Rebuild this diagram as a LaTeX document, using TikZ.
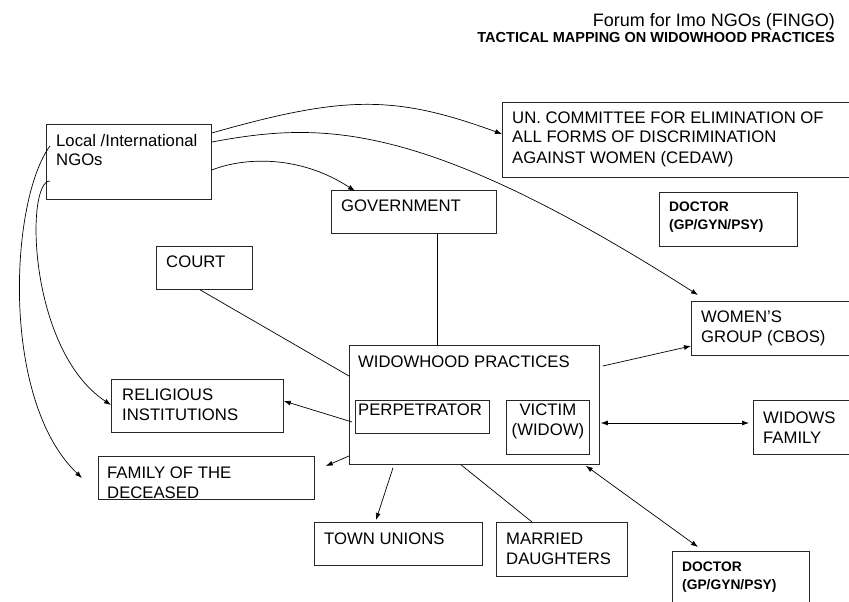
\documentclass[tikz,border=0pt]{standalone}
\usepackage{fontspec}
\setmainfont{Liberation Sans}
\usetikzlibrary{calc,arrows.meta}
\begin{document}
\begin{tikzpicture}[x=1pt,y=-1pt,
  box/.style={draw=black!85,line width=0.8pt,anchor=north west,inner sep=0pt,rectangle},
  txt/.style={anchor=base west,inner sep=0pt,font=\fontsize{16.7}{20}\selectfont},
  btxt/.style={anchor=base west,inner sep=0pt,font=\fontsize{13.8}{18}\selectfont\bfseries},
  link/.style={line width=0.7pt},
  arr/.style={link,-{Latex[length=7pt,width=5pt]}},
  darr/.style={link,{Latex[length=7pt,width=5pt]}-{Latex[length=7pt,width=5pt]}}]
\useasboundingbox (0,0) rectangle (849,602);
\clip (0,0) rectangle (849,602);
% title
\node[anchor=base east,inner sep=0pt,font=\fontsize{18}{20}\selectfont] (title) at (835,27) {Forum for Imo NGOs (FINGO)};
\node[anchor=base east,inner sep=0pt,font=\fontsize{14.5}{16}\selectfont\bfseries] (subtitle) at (835,43) {TACTICAL MAPPING ON WIDOWHOOD PRACTICES};
% boxes
\node[box,minimum width=165pt,minimum height=75pt] (ngo) at (46,124) {};
\node[txt] (ngoT) at ($(ngo.north west)+(10,22)$) {\begin{tabular}[t]{@{}l@{}}Local /International\\NGOs\end{tabular}};
\node[box,minimum width=368pt,minimum height=75pt] (un) at (502,102) {};
\node[txt] (unT) at ($(un.north west)+(10,21)$) {\begin{tabular}[t]{@{}l@{}}UN. COMMITTEE FOR ELIMINATION OF\\ALL FORMS OF DISCRIMINATION\\AGAINST WOMEN (CEDAW)\end{tabular}};
\node[box,minimum width=138pt,minimum height=54pt] (docA) at (659,192) {};
\node[btxt] (docAT) at ($(docA.north west)+(10,19)$) {\begin{tabular}[t]{@{}l@{}}DOCTOR\\(GP/GYN/PSY)\end{tabular}};
\node[box,minimum width=165pt,minimum height=43pt] (gov) at (331,190) {};
\node[txt] (govT) at ($(gov.north west)+(10,21)$) {GOVERNMENT};
\node[box,minimum width=96pt,minimum height=43pt] (court) at (156,246) {};
\node[txt] (courtT) at ($(court.north west)+(10,21)$) {COURT};
\node[box,minimum width=250pt,minimum height=119pt] (wp) at (349,345) {};
\node[txt] (wpT) at ($(wp.north west)+(9,22)$) {WIDOWHOOD PRACTICES};
\node[box,minimum width=134pt,minimum height=33pt] (perp) at (355,400) {};
\node[txt] (perpT) at ($(perp.north west)+(3,15)$) {PERPETRATOR};
\node[box,minimum width=83pt,minimum height=54pt] (victim) at (506,400) {};
\node[txt,anchor=base] (victimT) at ($(victim.north)+(0,15)$) {\begin{tabular}[t]{@{}c@{}}VICTIM\\(WIDOW)\end{tabular}};
\node[box,minimum width=172pt,minimum height=53pt] (rel) at (111,379) {};
\node[txt] (relT) at ($(rel.north west)+(11,21)$) {\begin{tabular}[t]{@{}l@{}}RELIGIOUS\\INSTITUTIONS\end{tabular}};
\node[box,minimum width=216pt,minimum height=43pt] (fam) at (98,456) {};
\node[txt] (famT) at ($(fam.north west)+(9,22)$) {\begin{tabular}[t]{@{}l@{}}FAMILY OF THE\\DECEASED\end{tabular}};
\node[box,minimum width=168pt,minimum height=43pt] (town) at (314,522) {};
\node[txt] (townT) at ($(town.north west)+(10,22)$) {TOWN UNIONS};
\node[box,minimum width=131pt,minimum height=54pt] (mar) at (496,522) {};
\node[txt] (marT) at ($(mar.north west)+(10,22)$) {\begin{tabular}[t]{@{}l@{}}MARRIED\\DAUGHTERS\end{tabular}};
\node[box,minimum width=179pt,minimum height=54pt] (women) at (691,301) {};
\node[txt] (womenT) at ($(women.north west)+(10,21)$) {\begin{tabular}[t]{@{}l@{}}WOMEN’S\\GROUP (CBOS)\end{tabular}};
\node[box,minimum width=117pt,minimum height=54pt] (widows) at (753,400) {};
\node[txt] (widowsT) at ($(widows.north west)+(10,23)$) {\begin{tabular}[t]{@{}l@{}}WIDOWS\\FAMILY\end{tabular}};
\node[box,minimum width=137pt,minimum height=70pt] (docB) at (672,551) {};
\node[btxt] (docBT) at ($(docB.north west)+(10,20)$) {\begin{tabular}[t]{@{}l@{}}DOCTOR\\(GP/GYN/PSY)\end{tabular}};
% connectors from NGOs
\draw[arr] ($(ngo.north east)+(0,9)$) .. controls (345,95) and (395,95) .. ($(un.north west)+(0,32)$);
\draw[arr] ($(ngo.north east)+(0,18)$) .. controls (320,122) and (420,118) .. ($(women.north west)+(7,-6)$);
\draw[arr] ($(ngo.north east)+(0,46)$) .. controls (245,157) and (300,155) .. ($(gov.north west)+(24,1)$);
\draw[arr] ($(ngo.north west)+(4,22)$) .. controls (10,200) and (0,400) .. ($(fam.north west)+(-16,22)$);
\draw[arr] ($(ngo.north west)+(4,57)$) .. controls (25,181) and (28,350) .. ($(rel.north west)+(0,26)$);
% connectors from widowhood practices
\draw[link] ($(gov.south west)+(106,0)$) coordinate (g1) -- (g1 |- wp.north);
\draw[link] ($(court.south west)+(44,0)$) -- ($(wp.north west)+(0,31)$);
\draw[arr] ($(wp.north east)+(3,21)$) -- ($(women.north west)+(0,45)$);
\draw[arr] ($(perp.north west)+(-3,22)$) -- ($(rel.north east)+(0,22)$);
\coordinate (famEnd) at ($(fam.north east)+(11,10)$);
\draw[arr] ($(wp.north west)+(0,111)$) -- (famEnd);
\draw[arr] ($(wp.south west)+(44,3)$) -- ($(town.north west)+(62,-2)$);
\draw[link] ($(wp.south west)+(112,0)$) -- ($(mar.north west)+(36,0)$);
\draw[darr] ($(wp.north east)+(1,78)$) -- ($(widows.north west)+(-4,23)$);
\draw[darr] ($(wp.south east)+(-14,1)$) -- ($(docB.north west)+(26,-4)$);
\end{tikzpicture}
\end{document}
